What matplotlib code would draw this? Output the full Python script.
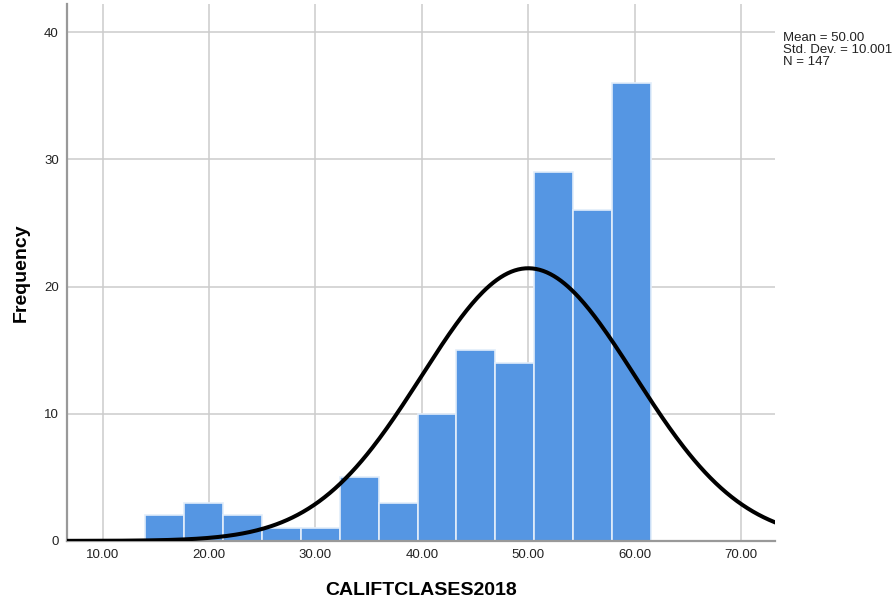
import numpy as np
import matplotlib
matplotlib.use("Agg")
import matplotlib.pyplot as plt

plt.rcParams['font.family'] = ['Liberation Sans', 'DejaVu Sans']

# histogram counts
bin_start = 14.0
bin_width = 3.656
counts = [2, 3, 2, 1, 1, 5, 3, 10, 15, 14, 29, 26, 36]

mean = 50.00
std_dev = 10.001
n = 147

x_ticks = [10, 20, 30, 40, 50, 60, 70]
y_ticks = [0, 10, 20, 30, 40]

fig = plt.figure(figsize=(8.94, 6.05), dpi=100)
ax = fig.add_axes([0.075, 0.106, 0.792, 0.887])

edges = bin_start + bin_width * np.arange(len(counts) + 1)
ax.bar(edges[:-1], counts, width=bin_width, align='edge',
       color='#5596e3', edgecolor='#e2edfa', linewidth=1.2, zorder=2)

xs = np.linspace(6.6, 73.3, 400)
pdf = n * bin_width / (std_dev * np.sqrt(2 * np.pi)) * np.exp(-0.5 * ((xs - mean) / std_dev) ** 2)
ax.plot(xs, pdf, color='black', linewidth=2.9, zorder=3, solid_capstyle='butt')

ax.set_xlim(6.65, 73.2)
ax.set_ylim(0, 42.2)
ax.set_xticks(x_ticks)
ax.set_xticklabels([f"{t:.2f}" for t in x_ticks])
ax.set_yticks(y_ticks)
ax.grid(True, color='#cccccc', linewidth=1.1, zorder=0)
ax.set_axisbelow(True)
ax.tick_params(length=0, labelsize=9.5, colors='#222222', pad=6)

for side in ['top', 'right']:
    ax.spines[side].set_visible(False)
for side in ['left', 'bottom']:
    ax.spines[side].set_color('#999999')
    ax.spines[side].set_linewidth(1.6)

ax.set_xlabel('CALIFTCLASES2018', fontsize=14, fontweight='bold', labelpad=15)
ax.set_ylabel('Frequency', fontsize=14, fontweight='bold', labelpad=10)

fig.text(0.876, 0.947, f"Mean = {mean:.2f}\nStd. Dev. = {std_dev:.3f}\nN = {n}",
         fontsize=9.5, va='top', ha='left', linespacing=1.0, color='#222222')

fig.savefig('out.png', dpi=100)
